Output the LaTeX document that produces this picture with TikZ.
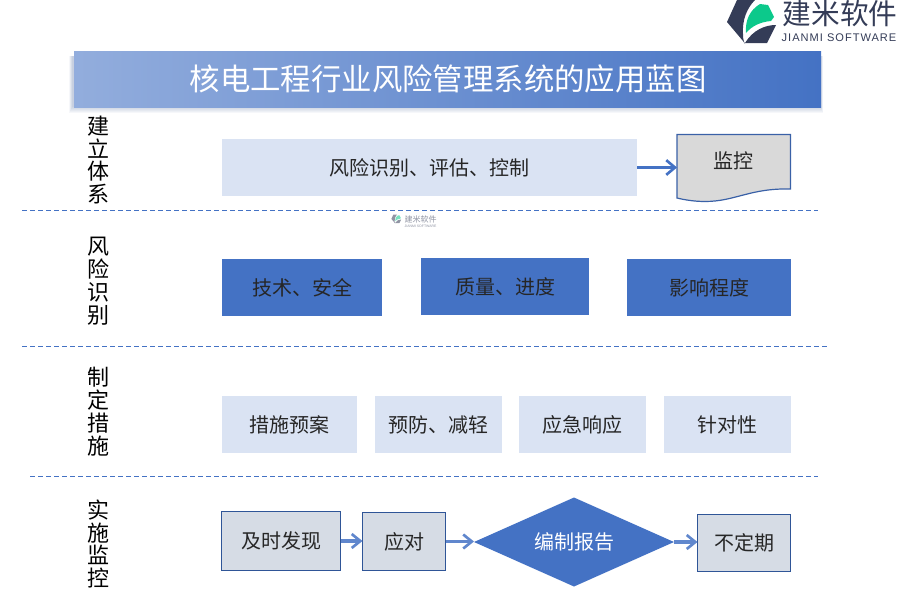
\documentclass[tikz,border=0pt]{standalone}
\usepackage{fontspec}
\setmainfont{Noto Sans CJK SC}
\newfontfamily\latinf{Liberation Sans}
\usetikzlibrary{arrows.meta,shapes.geometric}
\definecolor{bluemain}{HTML}{4472C4}
\definecolor{bluelight}{HTML}{DAE3F3}
\definecolor{greyblue}{HTML}{D6DCE5}
\definecolor{edgeblue}{HTML}{2F5597}
\definecolor{logodark}{HTML}{343C57}
\definecolor{logogreen}{HTML}{0CC98B}
\definecolor{ink}{HTML}{262626}
\tikzset{
  every node/.style={inner sep=0pt,outer sep=0pt,text=ink},
  lightbox/.style={fill=bluelight,font=\fontsize{15}{15}\selectfont},
  bluebox/.style={fill=bluemain,font=\fontsize{15}{15}\selectfont},
  greybox/.style={fill=greyblue,draw=edgeblue,line width=0.9pt,font=\fontsize{15}{15}\selectfont},
  sidelabel/.style={font=\fontsize{16.5}{17.2}\selectfont,text=black,align=center},
  divider/.style={draw=bluemain,line width=0.75pt,dash pattern=on 3.6pt off 2.4pt},
  flow/.style={draw=bluemain,line width=2.4pt,-{Straight Barb[length=6.5pt,width=11pt,line width=2pt]}},
  flowthin/.style={draw=bluemain!85!white,line width=2.3pt,-{Straight Barb[length=6.5pt,width=10.5pt,line width=2pt]}}
}
\newcommand{\jmlogo}[3]{%
  \begin{scope}[shift={(#1,#2)},x=#3*0.75pt,y=-#3*0.75pt]
    \fill[logodark] (37,0) -- (55,0) .. controls (47,8) and (42,20) .. (43,34) .. controls (43,37) and (43,40) .. (45,44) -- (43,41) -- (27,22) -- cycle;
    \fill[logogreen] (60,4) -- (68,5) -- (74,17) -- (71,21) .. controls (60,22) and (52,26) .. (46,33) .. controls (45,20) and (50,10) .. (60,4) -- cycle;
    \fill[logodark] (45,43) -- (67,43) -- (76,25) .. controls (65,25) and (53,30) .. (45,43) -- cycle;
  \end{scope}}
\begin{document}
\begin{tikzpicture}[x=0.75pt,y=-0.75pt]
\useasboundingbox (0,0) rectangle (900,600);
% logo
\jmlogo{700}{0}{1}
\node[anchor=center,font=\fontsize{21.5}{22}\selectfont,text=logodark] (logotext) at (840,14) {建米软件};
\node[anchor=center,font=\latinf\fontsize{8.3}{9}\selectfont,text=logodark] (logosub) at (839,38) {\addfontfeature{LetterSpace=9}JIANMI SOFTWARE};
% title shadow
\foreach \d in {0,1,...,6}{
  \fill[bluemain!70!black,opacity=0.045] (72-\d*0.5,56) rectangle (821+\d*0.3,107+\d);
}
\node[minimum width=560.25pt,minimum height=42pt,left color=bluemain!58!white,right color=bluemain,shading angle=90,anchor=north west,font=\fontsize{22.8}{23}\selectfont,text=white] (title) at (74,51) {\hspace*{1pt}核电工程行业风险管理系统的应用蓝图};
% side labels
\node[sidelabel] (s1) at (98,160) {建\\立\\体\\系};
\node[sidelabel] (s2) at (98,281) {风\\险\\识\\别};
\node[sidelabel] (s3) at (98,412) {制\\定\\措\\施};
\node[sidelabel] (s4) at (98,544) {实\\施\\监\\控};
% dividers
\coordinate (d1a) at (22,210); \coordinate (d1b) at (818,210);
\coordinate (d2a) at (22,346.5); \coordinate (d2b) at (829,346.5);
\coordinate (d3a) at (30,476); \coordinate (d3b) at (818,476);
\draw[divider] (d1a) -- (d1b);
\draw[divider] (d2a) -- (d2b);
\draw[divider] (d3a) -- (d3b);
% watermark
\begin{scope}[opacity=0.55,transparency group]
\jmlogo{386}{214.5}{0.2}
\node[font=\fontsize{6}{6}\selectfont,text=logodark] (wm) at (420.5,219.5) {建米软件};
\node[font=\latinf\fontsize{2.6}{3}\selectfont,text=logodark] (wmsub) at (420.5,226.5) {JIANMI SOFTWARE};
\end{scope}
% row 1
\node[lightbox,minimum width=311.25pt,minimum height=42.75pt] (risk) at (429.5,167.5) {风险识别、评估、控制};
\fill[fill=black!15] (677,134.5) -- (790.5,134.5) -- (790.5,189) .. controls (750,188) and (735,201.5) .. (705,201.5) .. controls (695,201.5) and (685,200) .. (677,198) -- cycle;
\draw[draw=bluemain!85!black,line width=0.9pt] (677,134.5) -- (790.5,134.5) -- (790.5,189) .. controls (750,188) and (735,201.5) .. (705,201.5) .. controls (695,201.5) and (685,200) .. (677,198) -- cycle;
\node[font=\fontsize{15}{15}\selectfont] (monitor) at (733.5,161) {监控};
\coordinate (monw) at (677,167.5);
\draw[flow] (risk.east) -- (monw);
% row 2
\node[bluebox,minimum width=120pt,minimum height=42.75pt] (r21) at (302,287.5) {技术、安全};
\node[bluebox,minimum width=126pt,minimum height=42.75pt] (r22) at (505,286.5) {质量、进度};
\node[bluebox,minimum width=123pt,minimum height=42.75pt] (r23) at (709,287.5) {影响程度};
% row 3
\node[lightbox,minimum width=101.25pt,minimum height=42.75pt] (r31) at (289.5,424.5) {措施预案};
\node[lightbox,minimum width=95.25pt,minimum height=42.75pt] (r32) at (438.5,424.5) {预防、减轻};
\node[lightbox,minimum width=95.25pt,minimum height=42.75pt] (r33) at (582.5,424.5) {应急响应};
\node[lightbox,minimum width=95.25pt,minimum height=42.75pt] (r34) at (727.5,424.5) {针对性};
% row 4
\node[greybox,minimum width=89.25pt,minimum height=44.25pt] (a1) at (281,541) {及时发现};
\node[greybox,minimum width=62.25pt,minimum height=43.5pt] (a2) at (404,541.5) {应对};
\node[diamond,fill=bluemain,aspect=2.25,minimum width=150pt,minimum height=66.75pt,font=\fontsize{15}{15}\selectfont,text=white] (a3) at (574,542) {};
\node[font=\fontsize{15}{15}\selectfont,text=white] (a3t) at (574,542) {编制报告};
\node[greybox,minimum width=69.75pt,minimum height=42.75pt] (a4) at (744,543) {不定期};
\draw[flowthin] (a1.east) -- (a1.east -| a2.west);
\draw[flowthin] (a2.east) -- (a2.east -| a3.west);
\draw[flowthin] (a3.east) -- (a3.east -| a4.west);
\end{tikzpicture}
\end{document}
